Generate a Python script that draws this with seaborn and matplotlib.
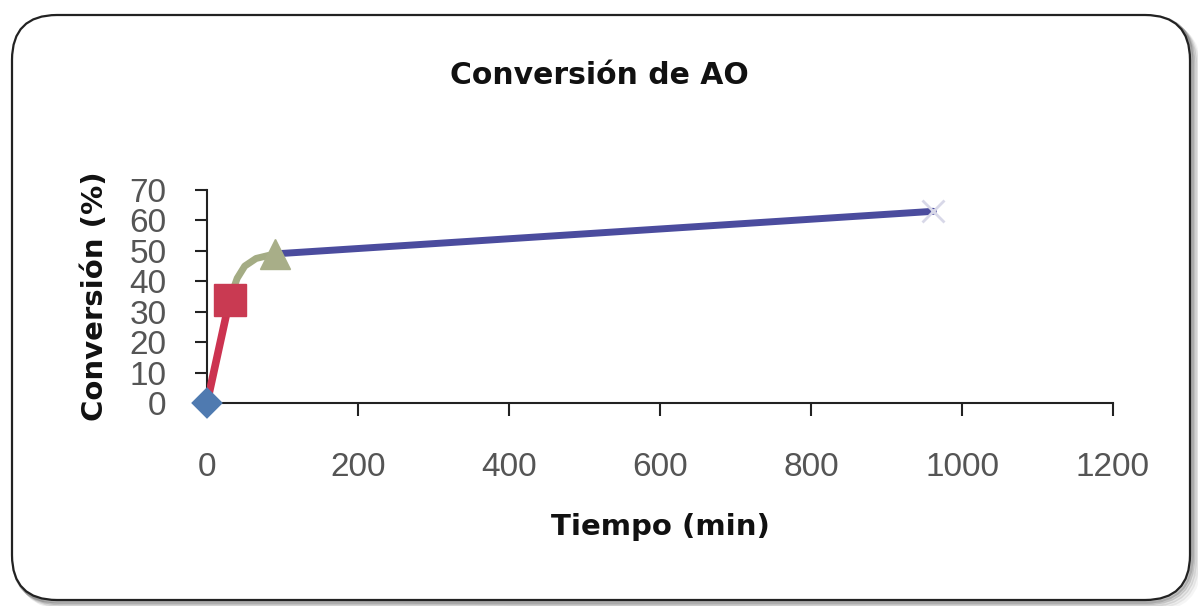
import matplotlib
matplotlib.use("Agg")
import matplotlib.pyplot as plt
from matplotlib.patches import FancyBboxPatch
import seaborn as sns
import pandas as pd

# Conversion of AO over time, one segment per series
t_s1 = [0]
c_s1 = [0]
t_s2 = [0, 30]
c_s2 = [0, 34]
t_s3 = [30, 40, 50, 65, 90]
c_s3 = [34, 41, 45, 47.5, 49]
t_s4 = [90, 962]
c_s4 = [49, 63]

x_ticks = [0, 200, 400, 600, 800, 1000, 1200]
y_ticks = [0, 10, 20, 30, 40, 50, 60, 70]

sns.set_theme(style="white")
plt.rcParams["font.family"] = ["DejaVu Sans"]

W, H = 1198, 606
fig = plt.figure(figsize=(W / 100, H / 100), dpi=100)
fig.patch.set_facecolor("white")

# background layer in pixel units for the rounded frame and its shadow
bg = fig.add_axes([0, 0, 1, 1], zorder=0)
bg.set_xlim(0, W)
bg.set_ylim(H, 0)
bg.axis("off")
for off, a in [(9, 0.05), (7, 0.09), (5, 0.14), (3, 0.2), (1.5, 0.28)]:
    bg.add_patch(FancyBboxPatch((12 + off, 15 + off), 1178, 585,
                                boxstyle="round,pad=0,rounding_size=45",
                                facecolor="none", edgecolor=(0.25, 0.25, 0.25, a), lw=3))
bg.add_patch(FancyBboxPatch((12, 15), 1178, 585, boxstyle="round,pad=0,rounding_size=45",
                            facecolor="white", edgecolor="#222222", lw=1.6))

ax = fig.add_axes([207 / W, (H - 403) / H, (1113 - 207) / W, (403 - 190) / H], zorder=2)
ax.set_facecolor("none")

df2 = pd.DataFrame({"t": t_s2, "c": c_s2})
df3 = pd.DataFrame({"t": t_s3, "c": c_s3})
df4 = pd.DataFrame({"t": t_s4, "c": c_s4})

sns.lineplot(data=df4, x="t", y="c", ax=ax, color="#4B4C9E", lw=5, sort=False, zorder=3)
ax.plot(t_s4[-1:], c_s4[-1:], marker="x", ms=16, mew=2, color="#D8D8E8", zorder=3, clip_on=False)
sns.lineplot(data=df3, x="t", y="c", ax=ax, color="#A4AC84", lw=5, sort=False, zorder=4)
ax.plot(t_s3[-1:], c_s3[-1:], marker="^", ms=22, color="#A8AE88", zorder=4, clip_on=False)
sns.lineplot(data=df2, x="t", y="c", ax=ax, color="#CC3350", lw=5.5, sort=False, zorder=5)
ax.plot(t_s2[-1:], c_s2[-1:], marker="s", ms=23, color="#C93A52", zorder=5, clip_on=False)
sns.scatterplot(x=t_s1, y=c_s1, ax=ax, marker="D", s=260, color="#4F7AB0", zorder=6,
                clip_on=False, edgecolor="none")

ax.set_xlim(0, 1200)
ax.set_ylim(0, 70)
ax.set_xticks(x_ticks)
ax.set_yticks(y_ticks)
ax.set_xticklabels([str(v) for v in x_ticks], family="Liberation Sans", fontsize=24, color="#555555")
ax.set_yticklabels([str(v) for v in y_ticks], family="Liberation Sans", fontsize=24, color="#555555")
ax.tick_params(axis="both", direction="out", length=9, width=1.5, color="#222222",
               left=True, bottom=True)
ax.tick_params(axis="y", pad=20)
ax.tick_params(axis="x", pad=26)
for s in ["top", "right"]:
    ax.spines[s].set_visible(False)
for s in ["left", "bottom"]:
    ax.spines[s].set_color("#222222")
    ax.spines[s].set_linewidth(1.5)

ax.set_xlabel("Tiempo (min)", fontsize=21, fontweight="bold", color="#111111", labelpad=22)
ax.set_ylabel("Conversión (%)", fontsize=21, fontweight="bold", color="#111111", labelpad=15)

fig.text(0.5, (H - 75) / H, "Conversión de AO", ha="center", va="center",
         fontsize=21.5, fontweight="bold", color="#111111")

fig.savefig("out.png", dpi=100, facecolor="white")
